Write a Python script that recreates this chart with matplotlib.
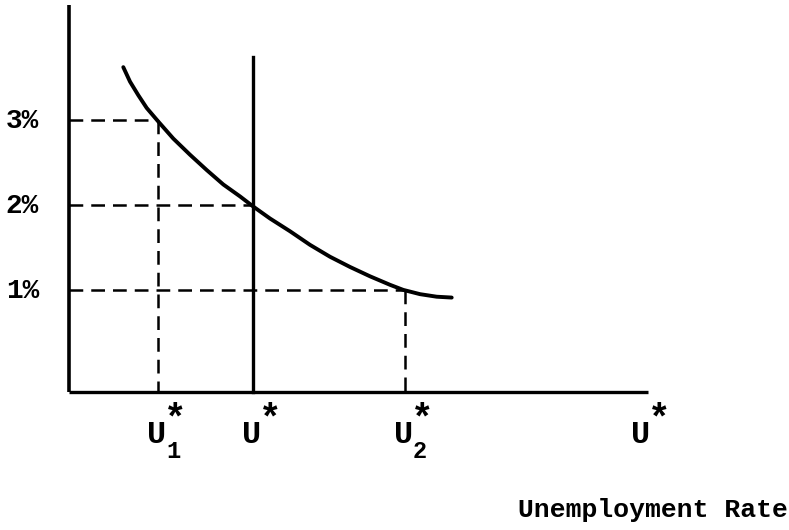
import matplotlib.pyplot as plt

plt.rcParams['font.family'] = ['Liberation Mono', 'DejaVu Sans Mono']
plt.rcParams['font.weight'] = 'bold'

# inflation levels (%) and their labels
levels = [3, 2, 1]
level_labels = ['3%', '2%', '1%']

# unemployment positions (arbitrary units) for U1*, U*, U2* and the far U*
u_pos = [8.9, 18.4, 33.6, 57.3]
u_subs = ['1', '', '2', '']

# curve
curve_x = [5.43, 6.10, 6.93, 7.77, 8.93, 10.43, 12.10, 13.77, 15.43, 17.10, 18.43,
           20.10, 22.10, 24.10, 26.10, 28.10, 30.10, 32.10, 33.43, 35.10, 36.77, 38.27]
curve_y = [3.62, 3.45, 3.29, 3.14, 2.98, 2.78, 2.59, 2.41, 2.24, 2.10, 1.98,
           1.84, 1.69, 1.53, 1.39, 1.27, 1.16, 1.06, 1.00, 0.95, 0.92, 0.91]

axis_y = -0.2
x_end = 57.9
y_top = 4.35
vline_top = 3.74

fig = plt.figure(figsize=(7.89, 5.30), dpi=100)
ax = fig.add_axes([0, 0, 1, 1])
ax.set_xlim(-6.9, 72.0)
ax.set_ylim(-1.824, 4.41)
ax.axis('off')

# axes
ax.plot([0, 0], [axis_y, y_top], color='black', lw=2.6, solid_capstyle='butt')
ax.plot([0, x_end], [axis_y, axis_y], color='black', lw=2.4, solid_capstyle='butt')

# vertical line at U*
ax.plot([u_pos[1], u_pos[1]], [axis_y, vline_top], color='black', lw=2.4)

# curve
ax.plot(curve_x, curve_y, color='black', lw=2.8, solid_capstyle='round',
        solid_joinstyle='round')

# dashed guides
dash = (5.5, 3.2)
lw_d = 1.8
ax.plot([0, u_pos[0]], [levels[0], levels[0]], color='black', lw=lw_d, dashes=dash)
ax.plot([0, u_pos[1]], [levels[1], levels[1]], color='black', lw=lw_d, dashes=dash)
ax.plot([0, u_pos[2]], [levels[2], levels[2]], color='black', lw=lw_d, dashes=dash)
ax.plot([u_pos[0], u_pos[0]], [levels[0], axis_y], color='black', lw=lw_d, dashes=dash)
ax.plot([u_pos[2], u_pos[2]], [levels[2], axis_y], color='black', lw=lw_d, dashes=dash)

# y labels
for lv, lab in zip(levels, level_labels):
    ax.text(-3.0, lv - 0.09, lab, ha='right', va='baseline', fontsize=20)

# x labels: U with star and subscript
for xp, sub in zip(u_pos, u_subs):
    left = xp - 1.1
    ax.text(left, -0.80, 'U', ha='left', va='baseline', fontsize=23)
    ax.text(left + 1.7, -0.64, '*', ha='left', va='baseline', fontsize=27)
    if sub:
        ax.text(left + 1.9, -0.98, sub, ha='left', va='baseline', fontsize=17)

ax.text(44.9, -1.67, 'Unemployment Rate', ha='left', va='baseline', fontsize=19)

fig.savefig('out.png', dpi=100)
